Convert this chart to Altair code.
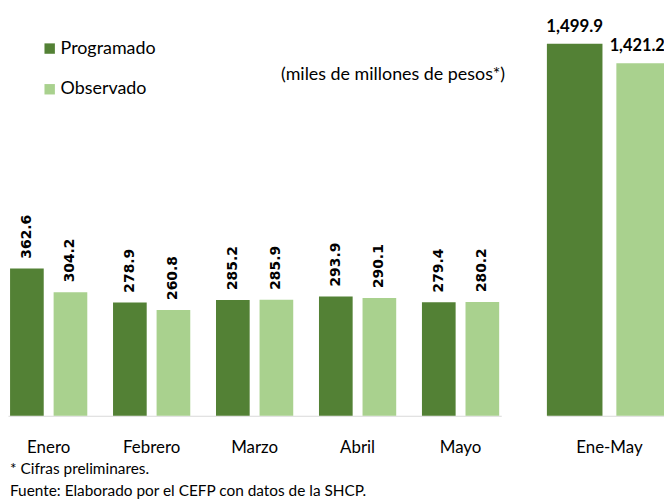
import altair as alt
import pandas as pd

meses = ["Enero", "Febrero", "Marzo", "Abril", "Mayo"]
programado = [362.6, 278.9, 285.2, 293.9, 279.4]
observado = [304.2, 260.8, 285.9, 290.1, 280.2]

total_cat = ["Ene-May"]
total_programado = [1499.9]
total_observado = [1421.2]

series = ["Programado", "Observado"]
colores = ["#538135", "#A9D18E"]

nota = "* Cifras preliminares."
fuente = "Fuente: Elaborado por el CEFP con datos de la SHCP."
unidades = "(miles de millones de pesos*)"

FONT = "Lato, sans-serif"

rows = []
for m, p, o in zip(meses, programado, observado):
    rows.append({"cat": m, "serie": series[0], "valor": p})
    rows.append({"cat": m, "serie": series[1], "valor": o})
df_m = pd.DataFrame(rows)

rows_t = []
for m, p, o in zip(total_cat, total_programado, total_observado):
    rows_t.append({"cat": m, "serie": series[0], "valor": p})
    rows_t.append({"cat": m, "serie": series[1], "valor": o})
df_t = pd.DataFrame(rows_t)

color = alt.Color(
    "serie:N",
    sort=series,
    scale=alt.Scale(domain=series, range=colores),
    legend=alt.Legend(
        title=None,
        orient="none",
        legendX=33,
        legendY=30,
        symbolType="square",
        symbolSize=110,
        symbolStrokeWidth=0,
        labelFontSize=18,
        labelFont=FONT,
        labelColor="#000000",
        labelOffset=2,
        rowPadding=23,
    ),
)

xaxis = alt.Axis(
    title=None,
    labelAngle=0,
    ticks=False,
    domainColor="#D9D9D9",
    domainWidth=1,
    labelFontSize=17,
    labelFont=FONT,
    labelColor="#000000",
    labelPadding=24,
)

# Monthly panel
base_m = alt.Chart(df_m).encode(
    x=alt.X("cat:N", sort=meses, axis=xaxis,
            scale=alt.Scale(paddingInner=0.25, paddingOuter=0.02)),
    xOffset=alt.XOffset("serie:N", sort=series,
                        scale=alt.Scale(paddingInner=0.227, paddingOuter=0)),
    y=alt.Y("valor:Q", axis=None, scale=alt.Scale(domain=[0, 1000])),
)
bars_m = base_m.mark_bar().encode(color=color)
labels_m = base_m.mark_text(
    angle=270, align="left", baseline="middle", dx=10,
    font="DejaVu Sans", fontWeight="bold", fontSize=14, color="#000000",
).encode(text=alt.Text("valor:Q", format=".1f"))

sub = alt.Chart(pd.DataFrame({"t": [unidades]})).mark_text(
    align="center", baseline="middle", fontSize=18, font=FONT, color="#000000"
).encode(x=alt.value(388), y=alt.value(66), text="t:N")

notes = alt.Chart(pd.DataFrame({"t": [nota, fuente], "yy": [463, 485]})).mark_text(
    align="left", baseline="middle", fontSize=15.5, font=FONT, color="#000000"
).encode(x=alt.value(2), y=alt.Y("yy:Q", scale=None), text="t:N")

left = alt.layer(bars_m, labels_m, sub, notes).properties(width=497, height=409)

# Total panel
base_t = alt.Chart(df_t).encode(
    x=alt.X("cat:N", sort=total_cat, axis=xaxis,
            scale=alt.Scale(paddingInner=0, paddingOuter=0)),
    xOffset=alt.XOffset("serie:N", sort=series,
                        scale=alt.Scale(paddingInner=0.2, paddingOuter=0)),
    y=alt.Y("valor:Q", axis=None, scale=alt.Scale(domain=[0, 1636])),
)
bars_t = base_t.mark_bar().encode(color=color)
labels_t_prog = base_t.mark_text(
    align="center", baseline="alphabetic", dy=-12,
    font=FONT, fontWeight="bold", fontSize=17, color="#000000",
).encode(text=alt.Text("valor:Q", format=",.1f")).transform_filter(
    alt.datum.serie == series[0]
)
labels_t_obs = base_t.mark_text(
    align="center", baseline="alphabetic", dy=-12, dx=-7,
    font=FONT, fontWeight="bold", fontSize=16.5, color="#000000",
).encode(text=alt.Text("valor:Q", format=",.1f")).transform_filter(
    alt.datum.serie == series[1]
)

right = alt.layer(bars_t, labels_t_prog, labels_t_obs).properties(width=126, height=409)

chart = (
    alt.hconcat(left, right, spacing=41)
    .resolve_scale(x="independent", xOffset="independent", y="independent")
    .properties(padding={"left": 0, "top": 0, "right": -8, "bottom": 0})
    .configure(background="white")
    .configure_view(stroke=None)
)

chart.save("out.html", embed_options={"renderer": "svg", "actions": False})
